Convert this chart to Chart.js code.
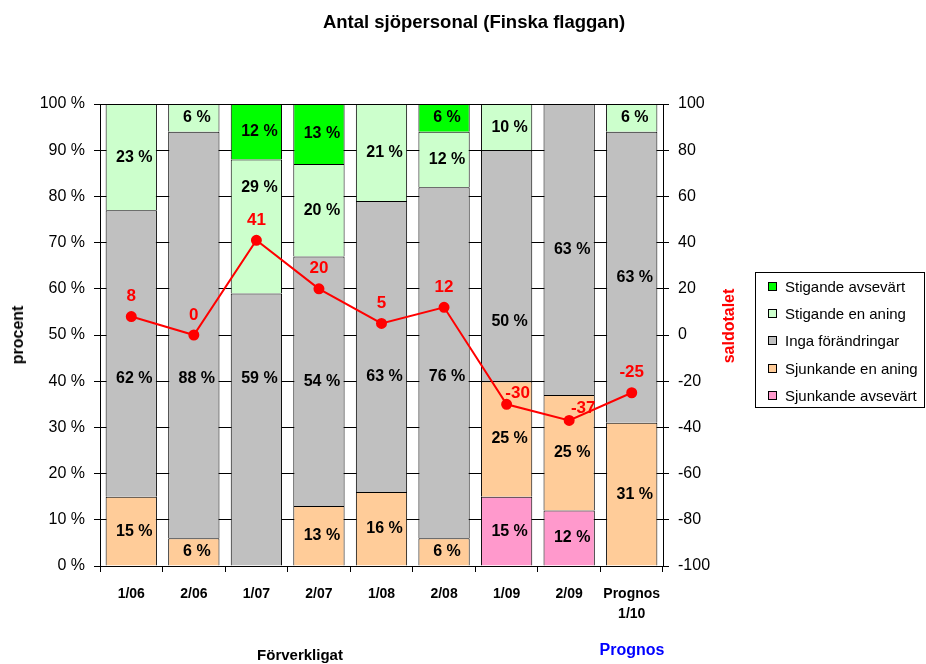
<!DOCTYPE html>
<html>
<head>
<meta charset="utf-8">
<script src="https://cdn.jsdelivr.net/npm/chart.js@4.4.1/dist/chart.umd.min.js"></script>
<style>
  html, body { margin: 0; padding: 0; background: #fff; }
  #wrap { position: relative; width: 926px; height: 664px; font-family: "Liberation Sans", Arial, sans-serif; }
  canvas { position: absolute; left: 0; top: 0; }
  .t { position: absolute; white-space: nowrap; color: #000; }
  #title { left: 474px; top: 11px; transform: translateX(-50%); font-weight: bold; font-size: 18.5px; }
  #ylab { left: 18px; top: 335px; transform: translate(-50%, -50%) rotate(-90deg); font-weight: bold; font-size: 16px; }
  #y1lab { left: 729px; top: 326px; transform: translate(-50%, -50%) rotate(-90deg); font-weight: bold; font-size: 16px; color: #ff0000; }
  #f1 { left: 300px; top: 646px; transform: translateX(-50%); font-weight: bold; font-size: 15px; }
  #f2 { left: 632px; top: 641px; transform: translateX(-50%); font-weight: bold; font-size: 16px; color: #0000ff; }
  #legend { position: absolute; left: 755px; top: 272px; width: 170px; height: 136px; border: 1px solid #000; box-sizing: border-box; background: #fff; }
  .li { position: absolute; left: 12px; font-size: 15px; line-height: 16px; white-space: nowrap; }
  .sw { display: inline-block; width: 7px; height: 7px; border: 1px solid #000; margin-right: 8px; vertical-align: 1px; }
</style>
</head>
<body>
<div id="wrap">
  <canvas id="c" width="926" height="664"></canvas>
  <div class="t" id="title">Antal sjöpersonal (Finska flaggan)</div>
  <div class="t" id="ylab">procent</div>
  <div class="t" id="y1lab">saldotalet</div>
  <div class="t" id="f1">Förverkligat</div>
  <div class="t" id="f2">Prognos</div>
  <div id="legend"></div>
</div>
<script>
// ---- data ----
const categories = ["1/06", "2/06", "1/07", "2/07", "1/08", "2/08", "1/09", "2/09", ["Prognos", "1/10"]];
const sjunkandeAvsevart = [0, 0, 0, 0, 0, 0, 15, 12, 0];
const sjunkandeEnAning  = [15, 6, 0, 13, 16, 6, 25, 25, 31];
const ingaForandringar  = [62, 88, 59, 54, 63, 76, 50, 63, 63];
const stigandeEnAning   = [23, 6, 29, 20, 21, 12, 10, 0, 6];
const stigandeAvsevart  = [0, 0, 12, 13, 0, 6, 0, 0, 0];
const saldotalet        = [8, 0, 41, 20, 5, 12, -30, -37, -25];
const leftTicks  = [0, 10, 20, 30, 40, 50, 60, 70, 80, 90, 100];
const rightTicks = [-100, -80, -60, -40, -20, 0, 20, 40, 60, 80, 100];

const seriesNames = ["Sjunkande avsevärt", "Sjunkande en aning", "Inga förändringar", "Stigande en aning", "Stigande avsevärt"];
const seriesValues = [sjunkandeAvsevart, sjunkandeEnAning, ingaForandringar, stigandeEnAning, stigandeAvsevart];
const seriesColors = ["#ff99cc", "#ffcc99", "#c0c0c0", "#ccffcc", "#00ff00"];

// legend (top to bottom = reverse of stacking)
const leg = document.getElementById('legend');
for (let i = seriesNames.length - 1, k = 0; i >= 0; i--, k++) {
  const d = document.createElement('div');
  d.className = 'li';
  d.style.top = (6 + k * 27.2) + 'px';
  d.innerHTML = '<span class="sw" style="background:' + seriesColors[i] + '"></span>' + seriesNames[i];
  leg.appendChild(d);
}

const FONT = "'Liberation Sans', Arial, sans-serif";

// label placement overrides (moved labels, in % axis units): dataset index -> {category index: position}
const labelMoves = { 2: { 0: 40.5, 1: 40.5, 2: 40.5, 4: 41, 5: 41, 6: 53 }, 3: { 2: 82 } };

const labelPlugin = {
  id: 'labels',
  afterDatasetsDraw(chart) {
    const ctx = chart.ctx;
    const ys = chart.scales.y;
    ctx.save();
    ctx.textAlign = 'center';
    ctx.textBaseline = 'middle';
    chart.data.datasets.forEach((ds, di) => {
      const meta = chart.getDatasetMeta(di);
      if (ds.type === 'line') {
        ctx.fillStyle = '#ff0000';
        ctx.font = 'bold 17px ' + FONT;
        const adj = { 6: [11, -11], 7: [14, -12] };
        meta.data.forEach((el, i) => {
          const a = adj[i] || [0, -20];
          ctx.fillText(String(ds.data[i]), el.x + a[0], el.y + a[1]);
        });
      } else {
        ctx.fillStyle = '#000';
        ctx.font = 'bold 16px ' + FONT;
        meta.data.forEach((el, i) => {
          const v = ds.data[i];
          if (!v) return;
          const mv = labelMoves[di] && labelMoves[di][i];
          const y = mv !== undefined ? ys.getPixelForValue(mv) : (el.y + el.base) / 2;
          ctx.fillText(v + ' %', el.x + 3, y);
        });
      }
    });
    ctx.restore();
  }
};

const datasets = seriesNames.map((n, i) => ({
  type: 'bar',
  label: n,
  data: seriesValues[i],
  backgroundColor: seriesColors[i],
  borderColor: '#000',
  borderWidth: c => (c.raw ? 1 : 0),
  borderSkipped: 'bottom',
  stack: 's',
  yAxisID: 'y',
  order: 1
}));
datasets.push({
  type: 'line',
  label: 'saldotalet',
  data: saldotalet,
  borderColor: '#ff0000',
  backgroundColor: '#ff0000',
  borderWidth: 2,
  pointRadius: 4.5,
  pointBackgroundColor: '#ff0000',
  pointBorderColor: '#ff0000',
  yAxisID: 'y1',
  order: 0,
  tension: 0
});

new Chart(document.getElementById('c'), {
  data: { labels: categories, datasets },
  options: {
    responsive: false,
    animation: false,
    events: [],
    layout: { padding: { top: 104, left: 0, right: 203, bottom: 38 } },
    plugins: { legend: { display: false }, title: { display: false }, tooltip: { enabled: false } },
    datasets: { bar: { barPercentage: 0.82, categoryPercentage: 1 } },
    scales: {
      x: {
        stacked: true,
        offset: true,
        grid: { offset: true, drawOnChartArea: false, drawTicks: true, tickLength: 6, color: '#000' },
        border: { color: '#000', width: 1 },
        ticks: { color: '#000', font: { family: FONT, size: 14, weight: 'bold', lineHeight: 1.45 }, padding: 12, maxRotation: 0, autoSkip: false },
        afterFit(s) { s.height = 60; }
      },
      y: {
        stacked: true,
        min: 0, max: 100,
        afterBuildTicks(s) { s.ticks = leftTicks.map(v => ({ value: v })); },
        grid: { color: '#000', lineWidth: 1, tickLength: 6 },
        border: { color: '#000', width: 1 },
        ticks: { color: '#000', font: { family: FONT, size: 16 }, padding: 9, callback: v => v + ' %' },
        afterFit(s) { s.width = 100; }
      },
      y1: {
        position: 'right',
        min: -100, max: 100,
        afterBuildTicks(s) { s.ticks = rightTicks.map(v => ({ value: v })); },
        grid: { drawOnChartArea: false, color: '#000', tickLength: 6 },
        border: { color: '#000', width: 1 },
        ticks: { color: '#000', font: { family: FONT, size: 16 }, padding: 9 },
        afterFit(s) { s.width = 60; }
      }
    }
  },
  plugins: [labelPlugin]
});
</script>
</body>
</html>
